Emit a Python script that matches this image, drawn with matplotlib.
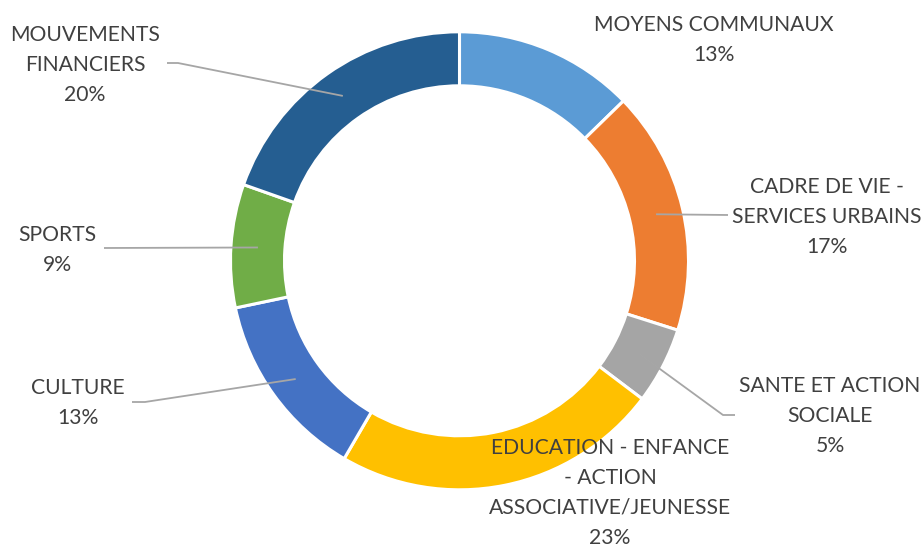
import numpy as np
import matplotlib
matplotlib.use("Agg")
import matplotlib.pyplot as plt

# ---- data ----
categories = [
    "MOYENS COMMUNAUX",
    "CADRE DE VIE -\nSERVICES URBAINS",
    "SANTE ET ACTION\nSOCIALE",
    "EDUCATION - ENFANCE\n- ACTION\nASSOCIATIVE/JEUNESSE",
    "CULTURE",
    "SPORTS",
    "MOUVEMENTS\nFINANCIERS",
]
shares = [12.7, 17.2, 5.4, 23.1, 13.3, 8.7, 19.6]
colors = ["#5B9BD5", "#ED7D31", "#A5A5A5", "#FFC000", "#4472C4", "#70AD47", "#255E91"]

# ---- layout (pixel positions of label blocks, leader elbows) ----
W, H = 921, 544
CX, CY, R = 459.5, 260.8, 229.0
label_pos_px = [(714, 40), (827, 217), (830, 416), (610, 493), (78, 403), (57, 250), (85, 65)]
# leader: (elbow point, end point) in px, None for no leader
leader_px = [
    None,
    ((728, 215), (728, 215)),
    ((723, 415), (735, 415)),
    None,
    ((145, 402), (132, 402)),
    ((104, 248), (104, 248)),
    ((178, 63), (167, 63)),
]

def px2d(x, y):
    return (x - CX) / R, (CY - y) / R

fig = plt.figure(figsize=(W / 100, H / 100), dpi=100)
ax = fig.add_axes([0, 0, 1, 1])

ring = 54 / 229
wedges, _ = ax.pie(shares, colors=colors, startangle=90, counterclock=False, radius=1,
                   wedgeprops=dict(width=ring, edgecolor="white", linewidth=2.2))

ax.set_xlim(-CX / R, (W - CX) / R)
ax.set_ylim((CY - H) / R, CY / R)
ax.set_aspect("equal")
ax.axis("off")

total = sum(shares)
font = ["Lato", "DejaVu Sans"]
for w, cat, val, pos, ld in zip(wedges, categories, shares, label_pos_px, leader_px):
    mid = np.deg2rad((w.theta1 + w.theta2) / 2)
    rm = 1 - ring / 2
    ax_, ay_ = rm * np.cos(mid), rm * np.sin(mid)
    if ld is not None:
        e1 = px2d(*ld[0])
        e2 = px2d(*ld[1])
        ax.plot([ax_, e1[0], e2[0]], [ay_, e1[1], e2[1]], color="#A6A6A6", lw=1.3,
                solid_capstyle="butt", zorder=1)
    lx, ly = px2d(*pos)
    txt = f"{cat}\n{round(val / total * 100):.0f}%"
    ax.text(lx, ly, txt, ha="center", va="center", multialignment="center",
            fontsize=15.2, color="#404040", family=font, linespacing=1.62)

fig.savefig("out.png", dpi=100)
